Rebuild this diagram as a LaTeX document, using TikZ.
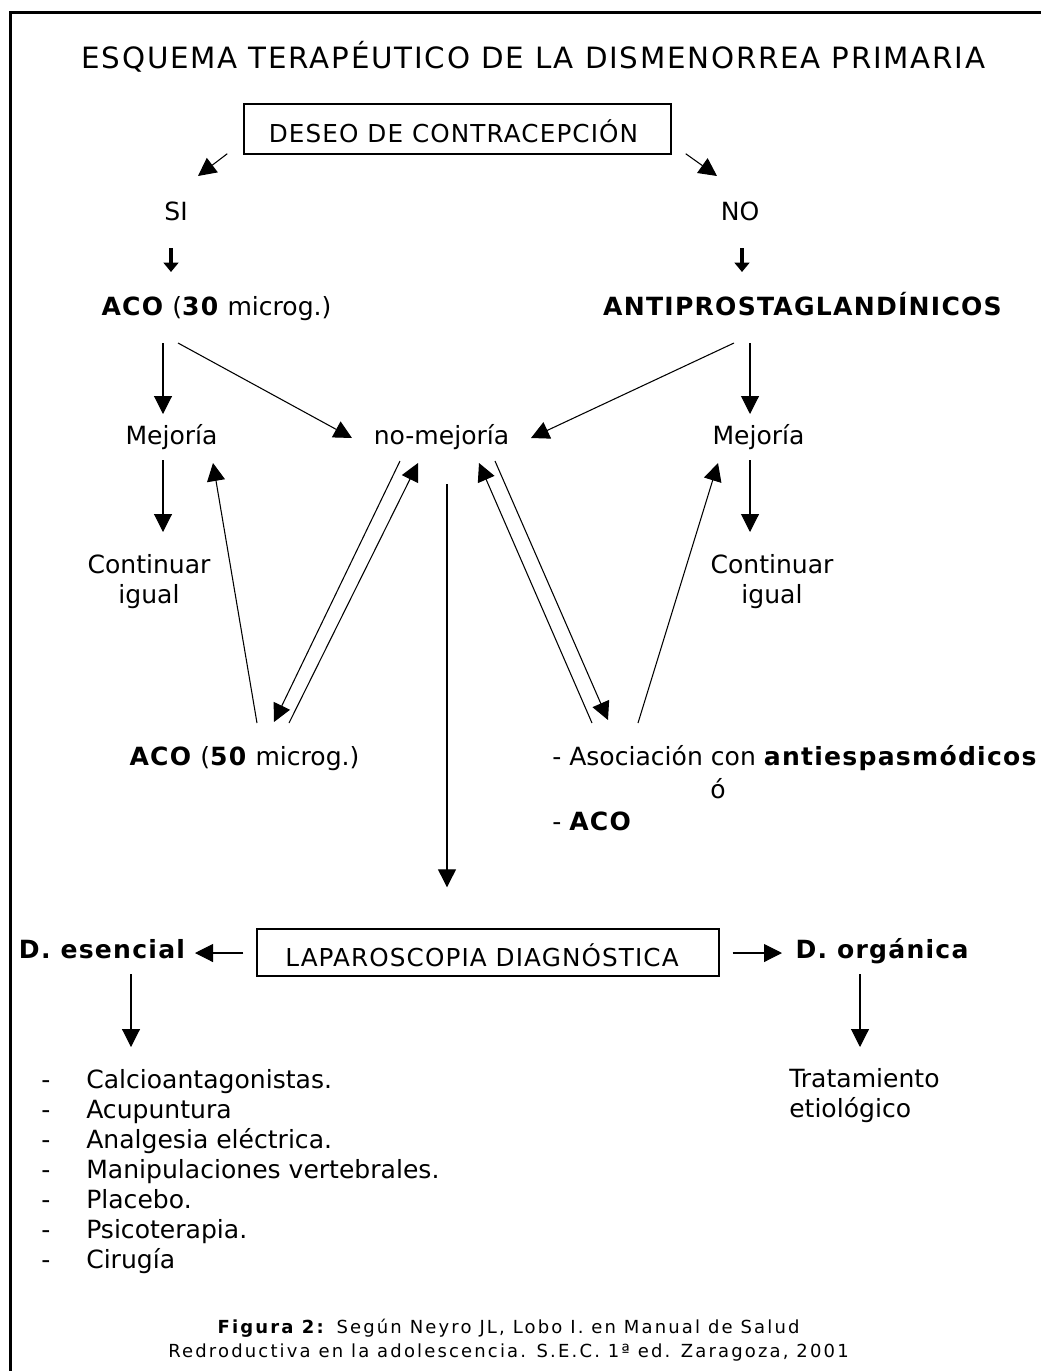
\documentclass[tikz,border=0pt]{standalone}
\usepackage{fontspec}
\setmainfont{DejaVu Sans}[BoldFeatures={LetterSpace=5}]
\newfontfamily\titlefont[LetterSpace=6]{DejaVu Sans}
\newfontfamily\boxfont[LetterSpace=4.5]{DejaVu Sans}
\newfontfamily\capfont[LetterSpace=12]{DejaVu Sans}
\usetikzlibrary{positioning,arrows.meta,calc}

\tikzset{
  txt/.style={inner sep=0pt, anchor=base, font=\fontsize{18.8}{22.5}\selectfont},
  boldtxt/.style={txt, font=\fontsize{18.8}{22.5}\selectfont\bfseries},
  boxnode/.style={draw, line width=1.1pt, inner sep=0pt, text depth=0pt, font=\fontsize{18.5}{22.5}\boxfont},
  arr/.style={line width=0.8pt, -{Triangle[length=13.5pt,width=13.5pt]}},
  fatarr/.style={line width=3.6pt, -{Triangle[length=7pt,width=11pt]}},
}

\begin{document}
\begin{tikzpicture}[x=0.75pt,y=-0.75pt]
    \useasboundingbox (0,0) rectangle (1041,1371);

    % Frame (left and top only)
    \draw[line width=2.25pt] (10,1371) -- (10,12) -- (1041,12);

    % Title
    \node[txt, font=\fontsize{22}{26}\titlefont] (title) at (533.5,68) {ESQUEMA TERAPÉUTICO DE LA DISMENORREA PRIMARIA};

    % Contraception wish
    \node[boxnode, minimum width=320.25pt, minimum height=37.5pt, text height=19.5pt] (deseo) at (457.5,129) {DESEO DE CONTRACEPCIÓN\hspace*{6pt}};
    \node[txt] (si) at (176,220) {SI};
    \node[txt] (no) at (740,220) {NO};
    \draw[arr] ($(deseo.south west)+(-16,-1)$) -- ($(si.base)+(22,-44)$);
    \draw[arr] ($(deseo.south east)+(14,-1)$) -- ($(no.base)+(-23,-44)$);

    % First treatment
    \node[txt] (aco30) at (216.5,315) {\textbf{ACO} (\textbf{30} microg.)};
    \node[boldtxt] (antip) at (802.5,315) {ANTIPROSTAGLANDÍNICOS};
    \draw[fatarr] ($(si.base)+(-5,28)$) -- ($(aco30.base)+(-45.5,-43)$);
    \draw[fatarr] ($(no.base)+(2,28)$) -- ($(antip.base)+(-60.5,-43)$);

    % Response
    \node[txt] (mejL) at (171.5,444) {Mejoría};
    \node[txt] (nomej) at (441.5,444) {no-mejoría};
    \node[txt] (mejR) at (758.5,444) {Mejoría};
    \draw[arr] ($(aco30.base)+(-53.5,28)$) -- ($(mejL.base)+(-8.5,-30)$);
    \draw[arr] ($(aco30.base)+(-38.5,28)$) -- ($(nomej.base)+(-89.5,-6)$);
    \draw[arr] ($(antip.base)+(-68.5,28)$) -- ($(nomej.base)+(89.5,-6)$);
    \draw[arr] ($(antip.base)+(-52.5,28)$) -- ($(mejR.base)+(-8.5,-30)$);

    \node[txt, anchor=north, align=center] (contL) at (149,554) {Continuar\\igual};
    \node[txt, anchor=north, align=center] (contR) at (772,554) {Continuar\\igual};
    \draw[arr] ($(mejL.base)+(-8.5,16)$) -- ($(contL.north)+(14,-22)$);
    \draw[arr] ($(mejR.base)+(-8.5,16)$) -- ($(contR.north)+(-22,-22)$);

    % Second step
    \node[txt] (aco50) at (244.5,765) {\textbf{ACO} (\textbf{50} microg.)};
    \node[txt, anchor=base west] (asoc) at (552,765) {- Asociación con \textbf{antiespasmódicos}};
    \node[txt] (oacc) at (718,798) {ó};
    \node[txt, anchor=base west] (aco) at (552,830) {- \textbf{ACO}};

    \draw[arr] ($(aco50.base)+(12.5,-42)$) -- ($(mejL.base)+(41.5,19)$);
    \draw[arr] ($(nomej.base)+(-41.5,17)$) -- ($(aco50.base)+(29.5,-43)$);
    \draw[arr] ($(aco50.base)+(44.5,-42)$) -- ($(nomej.base)+(-23.5,19)$);
    \draw[arr] ($(nomej.base)+(53.5,17)$) -- ($(asoc.base west)+(56,-45)$);
    \draw[arr] ($(asoc.base west)+(40,-42)$) -- ($(nomej.base)+(37.5,19)$);
    \draw[arr] ($(asoc.base west)+(86,-42)$) -- ($(mejR.base)+(-40.5,19)$);

    % Laparoscopy
    \node[boxnode, minimum width=346.5pt, minimum height=35.25pt, text height=20.25pt] (lap) at (488,952.5) {LAPAROSCOPIA DIAGNÓSTICA\hspace*{9pt}};
    \draw[arr, line width=1pt] ($(nomej.base)+(5.5,40)$) -- ($(lap.north)+(-41,-41)$);

    \node[boldtxt] (desen) at (102,958) {D. esencial};
    \node[boldtxt] (organ) at (882,958) {D. orgánica};
    \draw[arr] ($(lap.west)+(-13,0.5)$) -- ($(desen.base)+(93,-5)$);
    \draw[arr] ($(lap.east)+(13,0.5)$) -- ($(organ.base)+(-100,-5)$);

    % Essential: list of options
    \foreach \treat [count=\i] in {Calcioantagonistas., Acupuntura, Analgesia eléctrica., Manipulaciones vertebrales., Placebo., Psicoterapia., Cirugía} {
      \node[txt, anchor=base west] (dash\i) at (41,1058+30*\i) {-};
      \node[txt, anchor=base west] (item\i) at (86,1058+30*\i) {\treat};
    }
    \draw[arr] ($(desen.base)+(29,16)$) -- ($(item1.base west)+(45,-41)$);

    % Organic
    \node[txt, anchor=north west, align=left] (trat) at (789,1068) {Tratamiento\\etiológico};
    \draw[arr] ($(organ.base)+(-22,16)$) -- ($(trat.north west)+(71,-21)$);

    % Caption
    \node[txt, anchor=north, align=center, font=\fontsize{13.5}{18}\capfont] (caption) at (508.5,1319) {\textbf{Figura 2:} Según Neyro JL, Lobo I. en Manual de Salud\\Redroductiva en la adolescencia. S.E.C. 1ª ed. Zaragoza, 2001};

\end{tikzpicture}
\end{document}
